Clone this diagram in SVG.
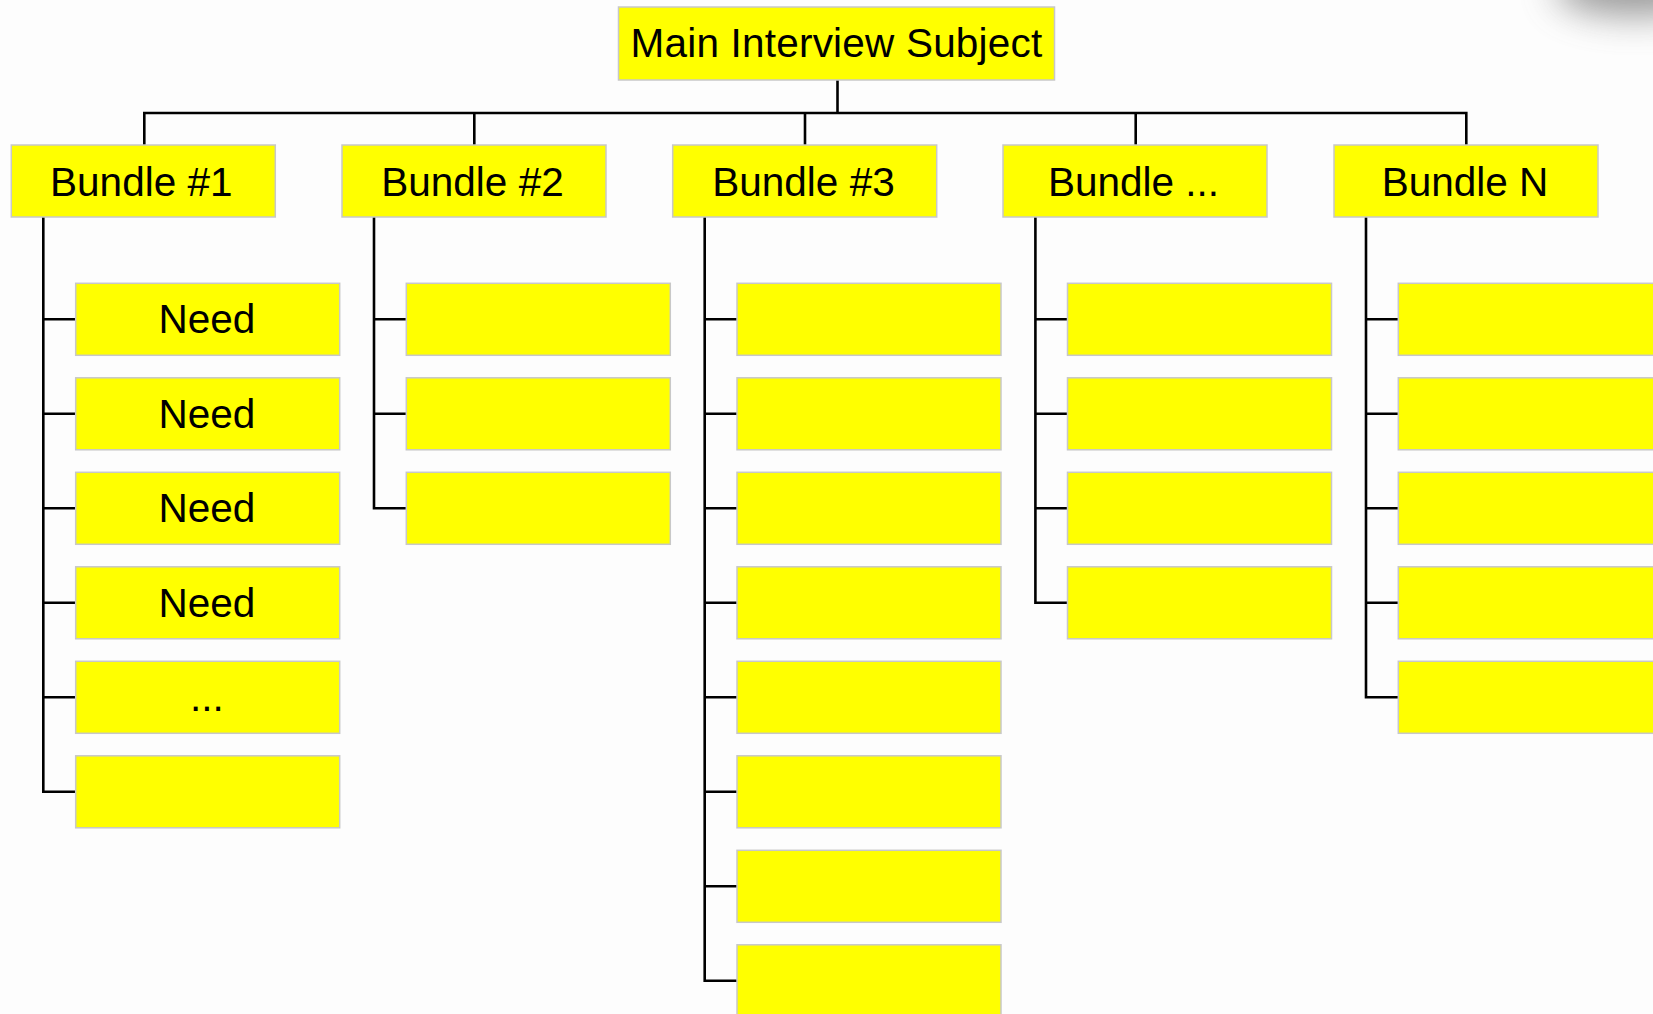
<svg xmlns="http://www.w3.org/2000/svg" width="1653" height="1014" viewBox="0 0 1653 1014">
<style>
.box{fill:#ffff00;stroke:#c8c8c8;stroke-width:1.5}
.lbl{font-family:"Liberation Sans",Arial,sans-serif;font-size:40.5px;fill:#000;text-anchor:middle}
.ln{fill:none;stroke:#000;stroke-width:2.6;stroke-linecap:square;stroke-linejoin:miter}
</style>
<defs>
<filter id="blur" x="-100%" y="-100%" width="300%" height="300%"><feGaussianBlur stdDeviation="18"/></filter>
</defs>
<rect width="1653" height="1014" fill="#fdfdfd"/>
<ellipse cx="1635" cy="-12" rx="80" ry="28" fill="#6e6e6e" opacity="0.7" filter="url(#blur)"/>
<g id="connectors">
<path class="ln" d="M837.5 80V113M144.3 145V113H1466.3V145M474.3 113V145M805 113V145M1135.7 113V145"/>
<path class="ln" d="M43.3 217V790.5M43.3 319.3H75M43.3 413.8H75M43.3 508.3H75M43.3 602.8H75M43.3 697.3H75M43.3 791.8H75"/>
<path class="ln" d="M374 217V507M374 319.3H405.5M374 413.8H405.5M374 508.3H405.5"/>
<path class="ln" d="M704.7 217V979.5M704.7 319.3H736.5M704.7 413.8H736.5M704.7 508.3H736.5M704.7 602.8H736.5M704.7 697.3H736.5M704.7 791.8H736.5M704.7 886.3H736.5M704.7 980.8H736.5"/>
<path class="ln" d="M1035.4 217V601.5M1035.4 319.3H1067M1035.4 413.8H1067M1035.4 508.3H1067M1035.4 602.8H1067"/>
<path class="ln" d="M1366 217V696M1366 319.3H1398M1366 413.8H1398M1366 508.3H1398M1366 602.8H1398M1366 697.3H1398"/>
</g>
<g id="main"><rect class="box" x="618.5" y="7" width="436" height="73"/><text class="lbl" x="836.5" y="57" font-size="40.5" letter-spacing="0.2">Main Interview Subject</text></g>
<g id="bundle1"><rect class="box" x="11.3" y="145" width="264" height="72"/><text class="lbl" x="141.3" y="195.5">Bundle #1</text></g>
<g id="bundle2"><rect class="box" x="342" y="145" width="264" height="72"/><text class="lbl" x="472.5" y="195.5">Bundle #2</text></g>
<g id="bundle3"><rect class="box" x="672.7" y="145" width="264" height="72"/><text class="lbl" x="803.5" y="195.5">Bundle #3</text></g>
<g id="bundle4"><rect class="box" x="1003" y="145" width="264" height="72"/><text class="lbl" x="1133.5" y="195.5">Bundle ...</text></g>
<g id="bundleN"><rect class="box" x="1334" y="145" width="264" height="72"/><text class="lbl" x="1465" y="195.5">Bundle N</text></g>
<g id="b1c1"><rect class="box" x="75.7" y="283.3" width="264" height="72"/><text class="lbl" x="207" y="333">Need</text></g>
<g id="b1c2"><rect class="box" x="75.7" y="377.8" width="264" height="72"/><text class="lbl" x="207" y="427.5">Need</text></g>
<g id="b1c3"><rect class="box" x="75.7" y="472.3" width="264" height="72"/><text class="lbl" x="207" y="522">Need</text></g>
<g id="b1c4"><rect class="box" x="75.7" y="566.8" width="264" height="72"/><text class="lbl" x="207" y="616.5">Need</text></g>
<g id="b1c5"><rect class="box" x="75.7" y="661.3" width="264" height="72"/><text class="lbl" x="207" y="711">...</text></g>
<g id="b1c6"><rect class="box" x="75.7" y="755.8" width="264" height="72"/></g>
<g id="b2c1"><rect class="box" x="406.3" y="283.3" width="264" height="72"/></g>
<g id="b2c2"><rect class="box" x="406.3" y="377.8" width="264" height="72"/></g>
<g id="b2c3"><rect class="box" x="406.3" y="472.3" width="264" height="72"/></g>
<g id="b3c1"><rect class="box" x="737" y="283.3" width="264" height="72"/></g>
<g id="b3c2"><rect class="box" x="737" y="377.8" width="264" height="72"/></g>
<g id="b3c3"><rect class="box" x="737" y="472.3" width="264" height="72"/></g>
<g id="b3c4"><rect class="box" x="737" y="566.8" width="264" height="72"/></g>
<g id="b3c5"><rect class="box" x="737" y="661.3" width="264" height="72"/></g>
<g id="b3c6"><rect class="box" x="737" y="755.8" width="264" height="72"/></g>
<g id="b3c7"><rect class="box" x="737" y="850.3" width="264" height="72"/></g>
<g id="b3c8"><rect class="box" x="737" y="944.8" width="264" height="72"/></g>
<g id="b4c1"><rect class="box" x="1067.5" y="283.3" width="264" height="72"/></g>
<g id="b4c2"><rect class="box" x="1067.5" y="377.8" width="264" height="72"/></g>
<g id="b4c3"><rect class="box" x="1067.5" y="472.3" width="264" height="72"/></g>
<g id="b4c4"><rect class="box" x="1067.5" y="566.8" width="264" height="72"/></g>
<g id="bNc1"><rect class="box" x="1398.3" y="283.3" width="264" height="72"/></g>
<g id="bNc2"><rect class="box" x="1398.3" y="377.8" width="264" height="72"/></g>
<g id="bNc3"><rect class="box" x="1398.3" y="472.3" width="264" height="72"/></g>
<g id="bNc4"><rect class="box" x="1398.3" y="566.8" width="264" height="72"/></g>
<g id="bNc5"><rect class="box" x="1398.3" y="661.3" width="264" height="72"/></g>
</svg>
